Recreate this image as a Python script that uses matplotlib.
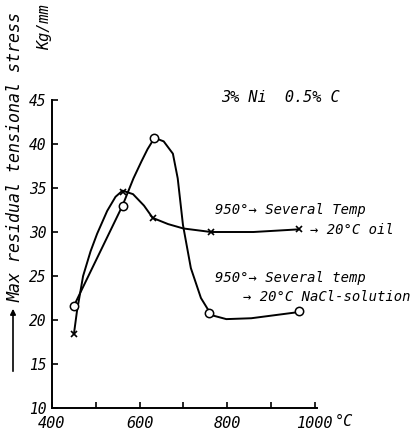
import numpy as np
import matplotlib
matplotlib.use('agg')
import matplotlib.pyplot as plt

# tempering temperature (deg C) and max residual tensional stress (kg/mm2)
oil_temp = [450, 561, 630, 763, 963]
oil_stress = [18.4, 34.6, 31.6, 30.0, 30.3]
# traced curve of the oil quench line
oil_curve_t = [450, 457, 471, 488, 503, 526, 545, 561, 585, 610, 630, 665, 700, 763, 860, 963]
oil_curve_s = [18.4, 21.0, 25.0, 27.8, 29.8, 32.4, 34.0, 34.7, 34.3, 33.0, 31.6, 30.9, 30.4, 30.0, 30.0, 30.3]

nacl_temp = [450, 561, 634, 759, 963]
nacl_stress = [21.6, 33.0, 40.7, 20.8, 21.0]
# traced curve of the NaCl quench line
nacl_curve_t = [450, 561, 586, 604, 618, 634, 655, 676, 687, 699, 717, 740, 756, 768, 798, 855, 963]
nacl_curve_s = [21.6, 33.0, 36.1, 38.0, 39.4, 40.7, 40.3, 38.9, 36.1, 30.8, 25.9, 22.5, 21.2, 20.5, 20.1, 20.2, 20.9]

yticks = [10, 15, 20, 25, 30, 35, 40, 45]
xtickpos = [400, 600, 800, 1000]
xticklabels = ['400', '600', '800', '1000']

fnt = dict(family='DejaVu Sans Mono', style='oblique')

fig = plt.figure(figsize=(4.18, 4.30), dpi=100)
ax = fig.add_axes([52/418, 1-408/430, 265/418, 308/430])

ax.plot(oil_curve_t, oil_curve_s, color='black', lw=1.4)
ax.plot(oil_temp, oil_stress, 'x', color='black', ms=5, mew=1.2)
ax.plot(nacl_curve_t, nacl_curve_s, color='black', lw=1.4)
ax.plot(nacl_temp, nacl_stress, 'o', mfc='white', mec='black', ms=6, mew=1.1)

ax.set_xlim(400, 1005)
ax.set_ylim(10, 45)
for s in ['top', 'right']:
    ax.spines[s].set_visible(False)
for s in ['left', 'bottom']:
    ax.spines[s].set_linewidth(1.4)

ax.set_yticks(yticks)
ax.set_yticklabels([str(v) for v in yticks], fontsize=10.5, **fnt)
ax.set_xticks(xtickpos)
ax.set_xticklabels(xticklabels, fontsize=11, **fnt)
ax.set_xticks([500, 700, 900], minor=True)
ax.tick_params(direction='in', length=4, width=1.2)
ax.tick_params(axis='y', pad=4)
ax.tick_params(axis='x', pad=6)
ax.tick_params(which='minor', direction='in', length=4, width=1.2)
fig.text(335/418, 1-421/430, '°C', fontsize=11, ha='left', va='center', **fnt)

fig.text(280/418, 1-97/430, '3% Ni  0.5% C', fontsize=11, ha='center', va='center', **fnt)
fig.text(215/418, 1-210/430, '950°→ Several Temp', fontsize=10, ha='left', va='center', **fnt)
fig.text(310/418, 1-230/430, '→ 20°C oil', fontsize=10, ha='left', va='center', **fnt)
fig.text(215/418, 1-278/430, '950°→ Several temp', fontsize=10, ha='left', va='center', **fnt)
fig.text(243/418, 1-297/430, '→ 20°C NaCl-solution', fontsize=10, ha='left', va='center', **fnt)

fig.text(15/418, 1-302/430, 'Max residual tensional stress', fontsize=12, rotation=90,
         ha='center', va='bottom', **fnt)
fig.text(45/418, 1-4/430, 'Kg/mm', fontsize=11, rotation=90, ha='center', va='top', **fnt)
fig.add_artist(matplotlib.patches.FancyArrowPatch((13/418, 1-374/430), (13/418, 1-306/430),
               transform=fig.transFigure, arrowstyle='-|>', mutation_scale=8, color='black', lw=1.2))

fig.savefig('out.png', dpi=100)
